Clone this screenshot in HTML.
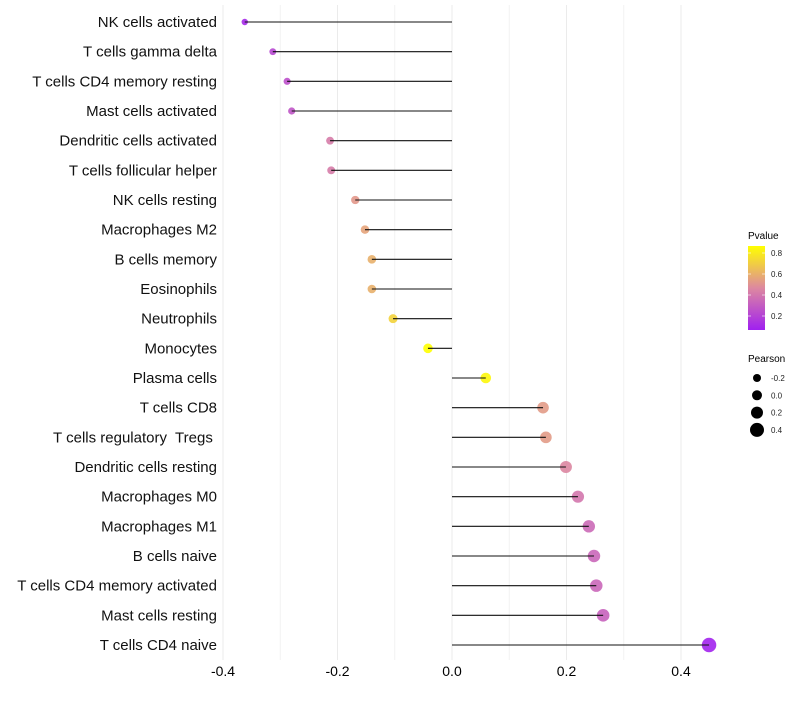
<!DOCTYPE html>
<html><head><meta charset="utf-8"><style>
body{margin:0;background:#fff;font-family:"Liberation Sans",sans-serif}
</style></head><body>
<svg id="c" width="800" height="700" xmlns="http://www.w3.org/2000/svg"></svg>
<script>
const cells=["NK cells activated","T cells gamma delta","T cells CD4 memory resting","Mast cells activated","Dendritic cells activated","T cells follicular helper","NK cells resting","Macrophages M2","B cells memory","Eosinophils","Neutrophils","Monocytes","Plasma cells","T cells CD8","T cells regulatory\u00a0 Tregs\u00a0","Dendritic cells resting","Macrophages M0","Macrophages M1","B cells naive","T cells CD4 memory activated","Mast cells resting","T cells CD4 naive"];
const pearson=[-0.362,-0.313,-0.288,-0.280,-0.213,-0.211,-0.169,-0.152,-0.140,-0.140,-0.103,-0.042,0.059,0.159,0.164,0.199,0.220,0.239,0.248,0.252,0.264,0.449];
const pvalue=[0.10,0.22,0.25,0.27,0.42,0.42,0.52,0.56,0.60,0.60,0.72,0.87,0.84,0.53,0.53,0.46,0.40,0.35,0.34,0.34,0.32,0.08];
const xTicks=[-0.4,-0.2,0.0,0.2,0.4];
const xMinor=[-0.3,-0.1,0.1,0.3];
const pTicks=[0.2,0.4,0.6,0.8];
const sizeTicks=[-0.2,0.0,0.2,0.4];
const NS="http://www.w3.org/2000/svg";
const svg=document.getElementById('c');
function mk(t,a,p){const e=document.createElementNS(NS,t);for(const k in a)e.setAttribute(k,a[k]);(p||svg).appendChild(e);return e;}
const X=v=>452+v*572.5;
const Y=i=>22+i*(623/21);
const R=v=>Math.max(1.6,5+5*v);
function col(p){const s=[[0.067,[160,32,240]],[0.467,[221,136,160]],[0.867,[255,255,0]]];p=Math.max(0.067,Math.min(0.867,p));let a=s[0],b=s[1];if(p>s[1][0]){a=s[1];b=s[2];}const t=(p-a[0])/(b[0]-a[0]);return 'rgb('+a[1].map((c,i)=>Math.round(c+(b[1][i]-c)*t)).join(',')+')';}
const PY=v=>253+(0.8-v)/0.2*21;
xMinor.forEach(v=>{const l=mk('line',{x1:X(v),x2:X(v),y1:5,y2:660,stroke:'#f2f2f2','stroke-width':1});});
xTicks.forEach(v=>{const l=mk('line',{x1:X(v),x2:X(v),y1:5,y2:660,stroke:'#ebebeb','stroke-width':1});
const t=mk('text',{x:X(v),y:676,'text-anchor':'middle','font-size':14,fill:'#000'});t.textContent=v.toFixed(1);});
cells.forEach((c,i)=>{const y=Y(i);
const t=mk('text',{x:217,y:y+5,'text-anchor':'end','font-size':15,fill:'#111'});t.textContent=c;
const d=mk('circle',{cx:X(pearson[i]),cy:y,r:R(pearson[i]),fill:col(pvalue[i]),'fill-opacity':0.9});
const l=mk('line',{x1:X(0),x2:X(pearson[i]),y1:y,y2:y,stroke:'#111','stroke-width':1.1});});
// legend
let g=mk('text',{x:748,y:239,'font-size':10,fill:'#000'});g.textContent='Pvalue';
const defs=mk('defs',{});const lg=mk('linearGradient',{id:'gr',x1:0,y1:1,x2:0,y2:0},defs);
[[0,'rgb(160,32,240)'],[0.5,'rgb(221,136,160)'],[1,'rgb(255,255,0)']].forEach(s=>mk('stop',{offset:s[0],'stop-color':s[1]},lg));
const bar=mk('rect',{x:748,y:246,width:17,height:84,fill:'url(#gr)'});
pTicks.forEach(v=>{const t=mk('text',{x:771,y:PY(v)+3,'font-size':8,fill:'#222'});t.textContent=v.toFixed(1);
mk('line',{x1:748,x2:751,y1:PY(v),y2:PY(v),stroke:'#fff','stroke-opacity':0.6});mk('line',{x1:762,x2:765,y1:PY(v),y2:PY(v),stroke:'#fff','stroke-opacity':0.6});});
g=mk('text',{x:748,y:362,'font-size':10,fill:'#000'});g.textContent='Pearson';
sizeTicks.forEach((v,i)=>{const y=378+i*17.3;const d=mk('circle',{cx:757,cy:y,r:R(v),fill:'#000'});
const t=mk('text',{x:771,y:y+3,'font-size':8,fill:'#222'});t.textContent=v.toFixed(1);});
</script>
</body></html>
